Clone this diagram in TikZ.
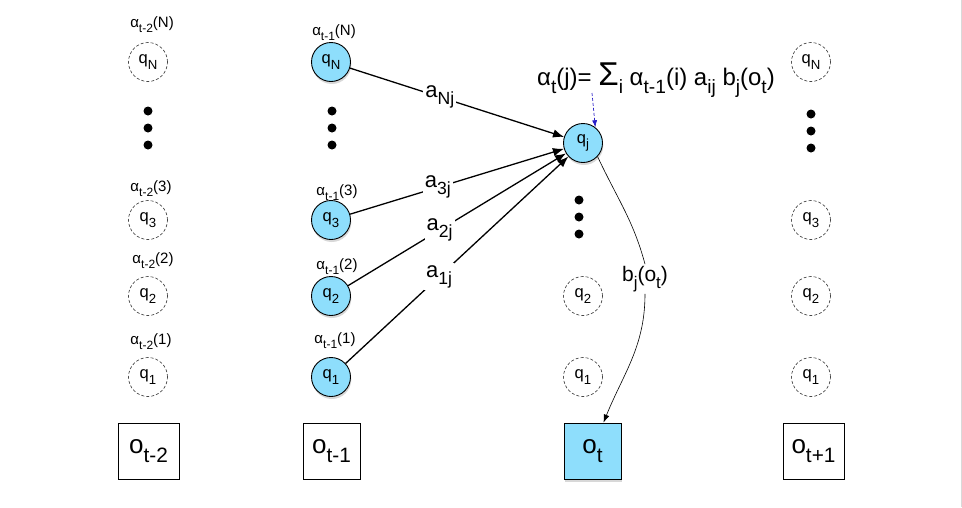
\documentclass[tikz,border=0pt]{standalone}
\usepackage{fontspec}
\setmainfont{Liberation Sans}
\usetikzlibrary{arrows.meta,shadows,calc}
\definecolor{qblue}{RGB}{142,222,252}
\definecolor{arrblue}{RGB}{40,30,200}
\newcommand\lo[1]{\raisebox{-0.32em}{\scalebox{0.8}{#1}}}
\begin{document}
\begin{tikzpicture}[x=1pt,y=-1pt,
 state/.style={circle,draw,minimum size=39pt,inner sep=0pt,font=\fontsize{16.5}{16.5}\selectfont},
 live/.style={state,fill=qblue,line width=0.9pt,drop shadow={shadow xshift=0.8pt,shadow yshift=-2.5pt,opacity=0.3}},
 ghost/.style={state,draw=black!80,line width=0.6pt,dash pattern=on 3pt off 2pt},
 obs/.style={draw,minimum width=58pt,minimum height=56pt,font=\fontsize{26}{26}\selectfont,inner sep=0pt,line width=0.6pt},
 obslive/.style={obs,fill=qblue,line width=0.9pt,drop shadow={shadow xshift=0.8pt,shadow yshift=-2.5pt,opacity=0.3}},
 alab/.style={font=\fontsize{15}{15}\selectfont,inner sep=0pt},
 elab/.style={fill=white,font=\fontsize{22}{22}\selectfont,inner sep=2pt},
 dot/.style={circle,fill=black,minimum size=9pt,inner sep=0pt},
 trans/.style={line width=1.3pt,-{Latex[length=11pt,width=8.5pt]}}
]
\useasboundingbox (0,0) rectangle (962,507);
\fill[white] (0,0) rectangle (962,507);
\draw[black!15,line width=1pt] (961,0) -- (961,507);

% column t-2
\node[alab] (l1N) at (152,25) {α\lo{t-2}(N)};
\node[ghost] (a1N) at (148,62) {q\lo{N}};
\node[dot] (d11) at (148,111) {};
\node[dot] (d12) at (148,128) {};
\node[dot] (d13) at (148,145) {};
\node[alab] (l13) at (151,189) {α\lo{t-2}(3)};
\node[ghost] (a13) at (148,220) {q\lo{3}};
\node[alab] (l12) at (153,261) {α\lo{t-2}(2)};
\node[ghost] (a12) at (148,296) {q\lo{2}};
\node[alab] (l11) at (151,342) {α\lo{t-2}(1)};
\node[ghost] (a11) at (148,377) {q\lo{1}};
\node[obs,minimum width=61pt] (o1) at (148.5,451) {o\lo{t-2}};

% column t-1
\node[alab] (l2N) at (334,33) {α\lo{t-1}(N)};
\node[live] (qN) at (331,62) {q\lo{N}};
\node[dot] (d21) at (332,111) {};
\node[dot] (d22) at (332,128) {};
\node[dot] (d23) at (332,145) {};
\node[alab] (l23) at (337,193) {α\lo{t-1}(3)};
\node[live] (q3) at (331,220) {q\lo{3}};
\node[alab] (l22) at (337,267) {α\lo{t-1}(2)};
\node[live] (q2) at (331,296) {q\lo{2}};
\node[alab] (l21) at (335,341) {α\lo{t-1}(1)};
\node[live] (q1) at (331,377) {q\lo{1}};
\node[obs,minimum width=57pt] (o2) at (331.5,451) {o\lo{t-1}};

% column t
\node[live] (qj) at (583,143) {q\lo{j}};
\node[dot] (d31) at (579,200) {};
\node[dot] (d32) at (579,217) {};
\node[dot] (d33) at (579,234) {};
\node[ghost] (c32) at (583,296) {q\lo{2}};
\node[ghost] (c31) at (583,377) {q\lo{1}};
\node[obslive,minimum width=57pt] (ot) at (592.5,451) {o\lo{t}};

% column t+1
\node[ghost] (c4N) at (811,62) {q\lo{N}};
\node[dot] (d41) at (811,114) {};
\node[dot] (d42) at (811,131) {};
\node[dot] (d43) at (811,148) {};
\node[ghost] (c43) at (811,220) {q\lo{3}};
\node[ghost] (c42) at (811,296) {q\lo{2}};
\node[ghost] (c41) at (811,377) {q\lo{1}};
\node[obs,minimum width=61pt] (o4) at (813.5,451) {o\lo{t+1}};

% formula
\node[font=\fontsize{24}{24}\selectfont,inner sep=0pt] (frm) at (656,80)
 {α\lo{t}(j)= {\fontsize{33}{33}\selectfont Σ}\lo{i} α\lo{t-1}(i) a\lo{ij} b\lo{j}(o\lo{t})};
\coordinate (bt) at (592,93);
\draw[arrblue,line width=0.7pt,dash pattern=on 3pt off 2pt,-{Latex[length=7pt,width=5pt]}] (bt) -- (qj.52);

% transitions
\draw[trans] (qN) -- node[elab,pos=0.42] (eN) {a\lo{Nj}} (qj);
\draw[trans] (q3) -- node[elab,pos=0.41] (e3) {a\lo{3j}} (qj);
\draw[trans] (q2) -- node[elab,pos=0.42] (e2) {a\lo{2j}} (qj);
\draw[trans] (q1) -- node[elab,pos=0.42] (e1) {a\lo{1j}} (qj);

% emission
\node[font=\fontsize{21}{21}\selectfont,inner sep=2pt] (bl) at (645,279) {b\lo{j}(o\lo{t})};
\draw[line width=0.6pt] (qj.-43) to[out=-65,in=105] (bl.north);
\draw[line width=0.6pt,-{Latex[length=8pt,width=6pt]}] (bl.south) to[out=-90,in=68] ([xshift=11pt]ot.north);
\end{tikzpicture}
\end{document}
